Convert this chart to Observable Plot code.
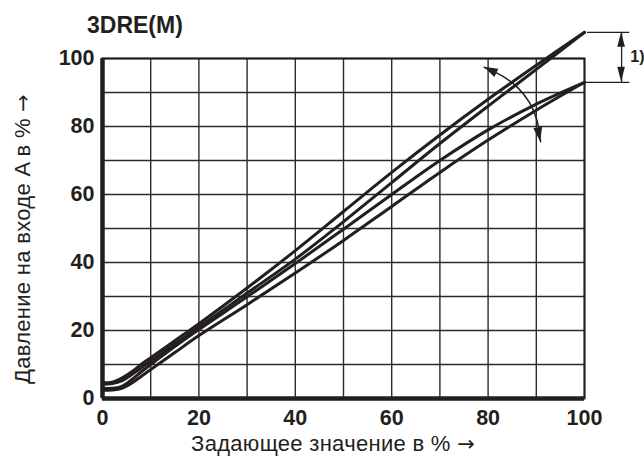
<!DOCTYPE html>
<html><head><meta charset="utf-8">
<script src="https://cdn.jsdelivr.net/npm/d3@7"></script>
<script src="https://cdn.jsdelivr.net/npm/@observablehq/plot@0.6"></script>
<style>
body{margin:0;background:#fff;}
#wrap{position:relative;width:644px;height:464px;}
.t{position:absolute;color:#231f20;white-space:nowrap;line-height:1;font-family:"Liberation Sans",Arial,sans-serif;}
.t .arr{font-family:"DejaVu Sans",sans-serif;font-size:0.95em;}
#title{left:87px;top:14px;font-weight:bold;font-size:23px;}
#xt{left:333px;top:433px;font-size:22px;letter-spacing:0.3px;transform:translateX(-50%);}
#yt{left:12px;top:239px;font-size:22px;letter-spacing:0.3px;transform:translate(-50%,0) rotate(-90deg);transform-origin:50% 0;}
</style></head><body><div id="wrap">
<div class="t" id="title"></div><div class="t" id="xt"></div><div class="t" id="yt"></div>
</div>
<script>
// Texts
const chartTitle = "3DRE(M)";
const xTitle = "Задающее значение в % →";
const yTitle = "Давление на входе A в % →";

// Setpoint (x, %) sample positions
const setpoint = [0, 2, 4, 6, 8, 10, 15, 20, 30, 40, 50, 60, 70, 80, 90, 100];
// Inlet pressure A (%) — upper hysteresis pair (max adjustment)
const upperHigh = [4.6, 4.8, 6.0, 7.8, 10.0, 12.0, 17.0, 22.0, 32.5, 43.5, 55.0, 66.5, 77.5, 88.0, 98.0, 107.7];
const upperLow  = [4.2, 4.4, 5.2, 7.0, 9.0, 11.0, 16.0, 21.0, 31.0, 41.0, 52.0, 63.5, 75.0, 86.0, 96.8, 107.7];
// lower hysteresis pair (min adjustment)
const lowerHigh = [3.0, 3.0, 3.6, 5.5, 7.8, 10.0, 15.3, 20.3, 29.9, 39.7, 49.8, 60.0, 70.0, 79.0, 86.6, 93.0];
const lowerLow  = [2.4, 2.5, 3.0, 4.5, 6.5, 8.5, 13.5, 18.5, 27.6, 36.9, 46.5, 56.5, 66.5, 76.0, 84.8, 93.0];
const curveNames = ["upperHigh", "upperLow", "lowerHigh", "lowerLow"];
const curveValues = [upperHigh, upperLow, lowerHigh, lowerLow];

// Tick labels / grid
const tickLabels = [0, 20, 40, 60, 80, 100];
const gridValues = [0, 10, 20, 30, 40, 50, 60, 70, 80, 90, 100];

// Adjustment arc annotation (data units)
const arcX = [79.2, 83.0, 86.1, 88.6, 90.1, 90.9];
const arcY = [97.4, 94.8, 91.5, 87.0, 82.0, 75.5];
// Dimension "1)" annotation
const dimTop = 107.7, dimBottom = 93.0, dimX = 107.7, dimEndX = 109.3;
const dimStartTop = 100.5, dimStartBottom = 100.0;
const dimLabel = "1)";

function setTitle(id, s) {
  const el = document.getElementById(id);
  const i = s.lastIndexOf("→");
  if (i < 0) { el.textContent = s; return; }
  el.appendChild(document.createTextNode(s.slice(0, i)));
  const sp = document.createElement("span"); sp.className = "arr"; sp.textContent = "→";
  el.appendChild(sp);
}
document.getElementById("title").textContent = chartTitle;
setTitle("xt", xTitle);
setTitle("yt", yTitle);

const rows = [];
curveNames.forEach((n, i) => setpoint.forEach((x, j) => rows.push({curve: n, x, y: curveValues[i][j]})));
const arc = arcX.map((x, i) => ({x, y: arcY[i]}));
const dims = [
  {x1: dimStartTop, x2: dimEndX, y: dimTop},
  {x1: dimStartBottom, x2: dimEndX, y: dimBottom}
];
const heads = [
  {x: arcX[0], y: arcY[0], fx: arcX[1], fy: arcY[1], L: 14, W: 4.5},
  {x: arcX[arcX.length-1], y: arcY[arcY.length-1], fx: arcX[arcX.length-2], fy: arcY[arcY.length-2], L: 14, W: 4.5},
  {x: dimX, y: dimTop, fx: dimX, fy: dimBottom, L: 15, W: 3.8},
  {x: dimX, y: dimBottom, fx: dimX, fy: dimTop, L: 15, W: 3.8}
];

const ink = "#231f20";
const arrowHeads = (index, scales) => {
  const g = d3.create("svg:g");
  for (const h of heads) {
    const tx = scales.x(h.x), ty = scales.y(h.y);
    const fx = scales.x(h.fx), fy = scales.y(h.fy);
    const a = Math.atan2(ty - fy, tx - fx);
    const bx = tx - h.L * Math.cos(a), by = ty - h.L * Math.sin(a);
    const px = -Math.sin(a) * h.W, py = Math.cos(a) * h.W;
    g.append("path").attr("d", `M${tx},${ty}L${bx + px},${by + py}L${bx - px},${by - py}Z`).attr("fill", ink);
  }
  return g.node();
};

const tickFont = "'Liberation Sans', Arial, sans-serif";
const chart = Plot.plot({
  width: 644, height: 464,
  marginLeft: 102, marginRight: 60, marginTop: 58, marginBottom: 66,
  style: {fontFamily: "'Liberation Sans', Arial, sans-serif", background: "white", color: ink},
  x: {domain: [0, 100]},
  y: {domain: [0, 100]},
  marks: [
    Plot.gridX(gridValues, {stroke: "#2b2b2b", strokeOpacity: 1, strokeWidth: 1.4}),
    Plot.gridY(gridValues, {stroke: "#2b2b2b", strokeOpacity: 1, strokeWidth: 1.4}),
    Plot.frame({stroke: ink, strokeWidth: 2}),
    Plot.ruleX([0], {stroke: ink, strokeWidth: 4.5}),
    Plot.ruleY([0], {stroke: ink, strokeWidth: 4.5}),
    Plot.axisX(tickLabels, {tickSize: 0, tickPadding: 11, fontSize: 21.5, fontWeight: "bold", fontFamily: tickFont, label: null}),
    Plot.axisY(tickLabels, {tickSize: 0, tickPadding: 8, fontSize: 21.5, fontWeight: "bold", fontFamily: tickFont, label: null}),
    Plot.line(rows, {x: "x", y: "y", z: "curve", curve: "catmull-rom", stroke: ink, strokeWidth: 3}),
    Plot.line(arc, {x: "x", y: "y", curve: "catmull-rom", stroke: ink, strokeWidth: 1.5}),
    Plot.link(dims, {x1: "x1", x2: "x2", y1: "y", y2: "y", stroke: ink, strokeWidth: 1.2}),
    Plot.ruleX([dimX], {y1: dimBottom, y2: dimTop, stroke: ink, strokeWidth: 1.3}),
    Plot.text([dimLabel], {x: dimEndX + 0.2, y: (dimTop + dimBottom) / 2, text: d => d, textAnchor: "start", fontWeight: "bold", fontSize: 16}),
    arrowHeads
  ]
});
chart.style.position = "absolute"; chart.style.left = "0"; chart.style.top = "0";
document.getElementById("wrap").insertBefore(chart, document.getElementById("wrap").firstChild);
</script></body></html>
